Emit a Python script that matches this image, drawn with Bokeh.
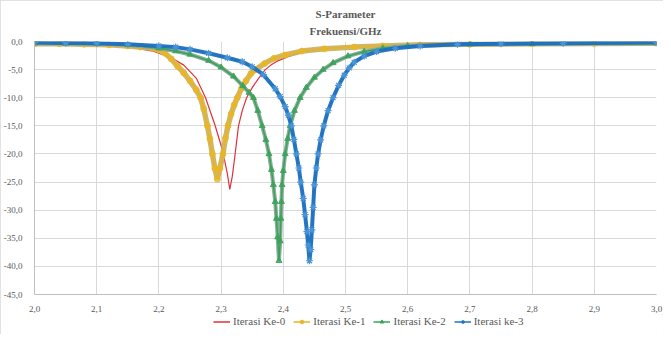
from bokeh.plotting import figure
from bokeh.layouts import column
from bokeh.models import Range1d, FixedTicker, Legend, LegendItem, Title, CustomJSTickFormatter
from bokeh.embed import file_html
from bokeh.resources import INLINE

# ---- data ----
freq_0 = [2.00, 2.05, 2.10, 2.15, 2.19, 2.22, 2.24, 2.26, 2.275, 2.29, 2.30, 2.305, 2.31, 2.314,
          2.318, 2.322, 2.328, 2.334, 2.341, 2.35, 2.36, 2.371, 2.38, 2.39, 2.408, 2.43, 2.45,
          2.50, 2.55, 2.60, 2.70, 2.85, 3.00]
s_0 = [-0.4, -0.5, -0.6, -0.9, -1.7, -2.9, -4.2, -6.5, -10.0, -14.8, -18.5, -20.8, -23.5, -26.3,
       -24.0, -20.5, -15.0, -12.3, -10.0, -8.2, -6.6, -5.0, -4.2, -3.5, -2.7, -1.9, -1.5,
       -1.0, -0.8, -0.6, -0.45, -0.35, -0.3]

freq_1 = [2.00, 2.04, 2.08, 2.12, 2.15, 2.17, 2.19, 2.20, 2.21, 2.22, 2.23, 2.24, 2.25, 2.26,
          2.267, 2.272, 2.278, 2.282, 2.286, 2.29, 2.294, 2.298, 2.303, 2.307, 2.311, 2.316,
          2.321, 2.326, 2.333, 2.34, 2.348, 2.355, 2.37, 2.385, 2.403, 2.43, 2.466, 2.514, 2.56,
          2.62, 2.70, 2.80, 2.90, 3.00]
s_1 = [-0.4, -0.4, -0.5, -0.6, -0.8, -1.0, -1.2, -1.5, -2.1, -3.1, -4.4, -5.6, -7.0, -8.6,
       -10.0, -11.9, -15.0, -17.3, -20.0, -22.6, -24.5, -22.6, -20.0, -17.2, -15.0, -12.9,
       -11.3, -10.0, -8.3, -7.0, -5.7, -5.0, -3.9, -3.0, -2.4, -1.7, -1.3, -1.0, -0.8,
       -0.6, -0.5, -0.4, -0.35, -0.3]

freq_2 = [2.00, 2.05, 2.10, 2.15, 2.20, 2.227, 2.25, 2.28, 2.30, 2.32, 2.335, 2.345, 2.352, 2.359,
          2.366, 2.372, 2.377, 2.381, 2.384, 2.387, 2.389, 2.391, 2.393, 2.395, 2.396, 2.397,
          2.398, 2.400, 2.403, 2.407, 2.411, 2.418, 2.427, 2.437, 2.45, 2.464, 2.48, 2.504, 2.53,
          2.56, 2.60, 2.70, 2.80, 3.00]
s_2 = [-0.3, -0.35, -0.4, -0.6, -1.2, -1.7, -2.3, -3.4, -4.6, -6.2, -7.9, -9.1, -10.0, -12.3,
       -15.0, -17.5, -20.0, -22.8, -25.5, -28.5, -31.5, -34.8, -39.0, -35.5, -31.5, -28.5,
       -25.5, -23.0, -20.0, -17.3, -15.0, -12.3, -10.0, -8.2, -6.4, -5.0, -3.8, -2.6, -1.8,
       -1.2, -0.8, -0.5, -0.4, -0.3]

freq_3 = [2.00, 2.05, 2.10, 2.15, 2.20, 2.227, 2.25, 2.28, 2.31, 2.334, 2.35, 2.368, 2.387, 2.395,
          2.403, 2.408, 2.413, 2.417, 2.421, 2.425, 2.428, 2.432, 2.435, 2.438, 2.440, 2.442,
          2.444, 2.446, 2.448, 2.450, 2.453, 2.456, 2.460, 2.465, 2.472, 2.480, 2.489, 2.498,
          2.506, 2.514, 2.53, 2.55, 2.58, 2.62, 2.68, 2.75, 2.85, 3.00]
s_3 = [-0.2, -0.25, -0.3, -0.5, -0.8, -1.0, -1.4, -2.1, -2.9, -3.6, -4.5, -5.9, -8.4, -9.8,
       -11.6, -13.1, -15.0, -17.4, -20.0, -22.5, -25.0, -27.9, -30.8, -33.8, -36.2, -39.0,
       -37.0, -33.5, -29.5, -25.5, -22.5, -20.0, -17.5, -15.0, -12.3, -10.0, -7.8, -6.0,
       -4.7, -3.7, -2.6, -1.8, -1.2, -0.8, -0.5, -0.4, -0.3, -0.2]

series_labels = ["Iterasi Ke-0", "Iterasi Ke-1", "Iterasi Ke-2", "Iterasi ke-3"]
x_ticks = [2.0, 2.1, 2.2, 2.3, 2.4, 2.5, 2.6, 2.7, 2.8, 2.9, 3.0]
y_ticks = [-45, -40, -35, -30, -25, -20, -15, -10, -5, 0]
title_lines = ["S-Parameter", "Frekuensi/GHz"]

FONT = "Liberation Serif"
TXT = "#595959"
RED, YEL, GRN, BLU = "#E0313A", "#E9B526", "#3AA35A", "#1F74C4"
W = 663

p = figure(width=W, height=314, output_backend="svg", toolbar_location=None, title=None,
           x_range=Range1d(2.0, 3.0), y_range=Range1d(-45, 0),
           min_border_left=29, min_border_right=7, min_border_top=41, min_border_bottom=15)
p.outline_line_color = None
p.background_fill_color = "white"

fmt = CustomJSTickFormatter(code="return tick.toFixed(1).replace('.', ',');")
p.xaxis.ticker = FixedTicker(ticks=x_ticks)
p.yaxis.ticker = FixedTicker(ticks=y_ticks)
for ax in (p.xaxis, p.yaxis):
    ax.formatter = fmt
    ax.major_tick_line_color = None
    ax.minor_tick_line_color = None
    ax.axis_line_color = "#BFBFBF"
    ax.major_label_text_font = FONT
    ax.major_label_text_font_size = "9px"
    ax.major_label_text_color = TXT
p.xaxis.major_label_standoff = 5
p.yaxis.major_label_standoff = 6
p.xgrid.grid_line_color = "#D9D9D9"
p.ygrid.grid_line_color = "#D9D9D9"

# Ke-0: thin red line
p.line(freq_0, s_0, line_color=RED, line_width=1.2)
# Ke-1: yellow circles, dense
p.line(freq_1, s_1, line_color="#CDB35E", line_width=5.5, line_alpha=0.95)
p.line(freq_1, s_1, line_color="#E6B426", line_width=1.5)
p.scatter(freq_1, s_1, marker="circle", size=6, fill_color=YEL, line_color=YEL,
          fill_alpha=0.75, line_alpha=0.75)
# Ke-2: green triangles
p.line(freq_2, s_2, line_color="#86A995", line_width=4.0, line_alpha=0.95)
p.line(freq_2, s_2, line_color=GRN, line_width=1.5)
p.scatter(freq_2, s_2, marker="triangle", size=6, fill_color=GRN, line_color=GRN,
          fill_alpha=0.85, line_alpha=0.85)
# Ke-3: blue asterisks
p.line(freq_3, s_3, line_color="#1C6FBF", line_width=4.0, line_alpha=0.95)
p.line(freq_3, s_3, line_color=BLU, line_width=1.5)
p.scatter(freq_3, s_3, marker="asterisk", size=7, line_color="#4A93D4", line_width=1.2)

p.add_layout(Title(text=title_lines[1], align="center", offset=-11, standoff=10,
                   text_font=FONT, text_font_size="11px", text_font_style="bold",
                   text_color=TXT), "above")
p.add_layout(Title(text=title_lines[0], align="center", offset=-11, standoff=-4,
                   text_font=FONT, text_font_size="11px", text_font_style="bold",
                   text_color=TXT), "above")

# legend strip below the chart
lg = figure(width=W, height=20, output_backend="svg", toolbar_location=None, title=None,
            x_range=Range1d(0, 1), y_range=Range1d(0, 1), min_border=0,
            x_axis_location=None, y_axis_location=None)
lg.grid.visible = False
lg.outline_line_color = None
off = [-5.0]
k0 = lg.line(off, off, line_color=RED, line_width=1.5)
k1l = lg.line(off, off, line_color=YEL, line_width=1.5)
k1m = lg.scatter(off, off, marker="circle", size=6, fill_color=YEL, line_color=YEL)
k2l = lg.line(off, off, line_color=GRN, line_width=1.5)
k2m = lg.scatter(off, off, marker="triangle", size=6, fill_color=GRN, line_color=GRN)
k3l = lg.line(off, off, line_color=BLU, line_width=1.5)
k3m = lg.scatter(off, off, marker="asterisk", size=7, line_color=BLU, line_width=1.2)
legend = Legend(items=[LegendItem(label=series_labels[0], renderers=[k0]),
                       LegendItem(label=series_labels[1], renderers=[k1l, k1m]),
                       LegendItem(label=series_labels[2], renderers=[k2l, k2m]),
                       LegendItem(label=series_labels[3], renderers=[k3l, k3m])],
                orientation="horizontal", location=(179, 7),
                glyph_width=17, glyph_height=9, label_standoff=3, spacing=8,
                padding=2, margin=0, border_line_color=None, background_fill_alpha=0,
                label_text_font=FONT, label_text_font_size="11px", label_text_color=TXT,
                label_height=9)
lg.add_layout(legend)

layout = column(p, lg, spacing=0)
layout.styles = {"outline": "1px solid #D9D9D9", "outline-offset": "-1px"}

open("out.html", "w").write(file_html(layout, INLINE))
